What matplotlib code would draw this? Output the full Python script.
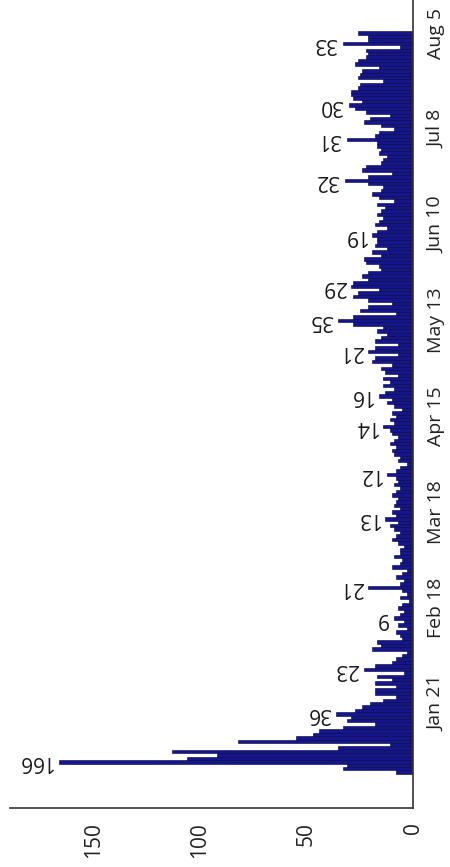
import matplotlib
matplotlib.use("Agg")
import matplotlib.pyplot as plt
import matplotlib.dates as mdates
import pandas as pd

start_date = "2021-01-01"
values = [
    8, 33, 31, 166, 106, 92, 113, 35, 11, 82,
    55, 47, 44, 33, 18, 31, 29, 36, 27, 24,
    20, 14, 8, 18, 18, 8, 18, 10, 17, 4,
    23, 18, 10, 8, 5, 3, 19, 15, 17, 5,
    6, 8, 3, 7, 4, 9, 6, 4, 7, 5,
    2, 6, 3, 5, 21, 6, 4, 8, 5, 3,
    10, 6, 5, 9, 6, 6, 4, 7, 10, 8,
    6, 9, 11, 7, 13, 8, 10, 6, 9, 8,
    7, 10, 8, 6, 9, 7, 8, 12, 8, 6,
    3, 7, 6, 9, 10, 8, 11, 9, 7, 10,
    11, 14, 9, 11, 8, 10, 5, 9, 12, 10,
    16, 13, 9, 14, 11, 14, 7, 13, 15, 10,
    19, 18, 7, 21, 18, 7, 18, 15, 12, 17,
    14, 28, 35, 28, 8, 25, 21, 10, 21, 28,
    26, 16, 29, 28, 21, 24, 21, 15, 16, 22,
    23, 15, 19, 12, 18, 17, 17, 19, 17, 12,
    18, 16, 14, 17, 15, 13, 17, 9, 16, 19,
    15, 14, 21, 32, 21, 10, 24, 22, 15, 14,
    12, 16, 15, 17, 17, 31, 18, 16, 9, 15,
    23, 20, 11, 22, 27, 30, 24, 28, 29, 29,
    26, 25, 14, 26, 25, 24, 16, 27, 26, 22,
    21, 22, 6, 33, 21, 21, 26,
]
label_dates = ["2021-01-04", "2021-01-18", "2021-01-31", "2021-02-15", "2021-02-24",
               "2021-03-16", "2021-03-29", "2021-04-12", "2021-04-21", "2021-05-04",
               "2021-05-13", "2021-05-23", "2021-06-07", "2021-06-23", "2021-07-05",
               "2021-07-15", "2021-08-02"]
tick_dates = ["2021-01-21", "2021-02-18", "2021-03-18", "2021-04-15",
              "2021-05-13", "2021-06-10", "2021-07-08", "2021-08-05"]
tick_labels = ["Jan 21", "Feb 18", "Mar 18", "Apr 15", "May 13", "Jun 10", "Jul 8", "Aug 5"]
value_ticks = [0, 50, 100, 150]

dates = pd.date_range(start_date, periods=len(values), freq="D")
ynum = mdates.date2num(dates.to_pydatetime())
series = pd.Series(values, index=dates)

plt.rcParams['font.family'] = ['Open Sans', 'DejaVu Sans']

fig = plt.figure(figsize=(4.5, 8.67), dpi=100)
ax = fig.add_axes([10 / 450, 59 / 867, 403 / 450, 808 / 867])

ax.barh(ynum, values, height=1.0, color="#16168c", edgecolor="#00003a", linewidth=0.4)

ax.set_xlim(189, 0)
ax.set_ylim(ynum[0] - 10.5, ynum[0] + 225.7)

ax.yaxis.tick_right()
ax.set_yticks(mdates.date2num(pd.to_datetime(tick_dates).to_pydatetime()))
ax.set_yticklabels(tick_labels, rotation=90, va="center", fontsize=14, color="#222222")
ax.set_xticks(value_ticks)
ax.set_xticklabels([str(v) for v in value_ticks], rotation=90, ha="center", va="top",
                   fontsize=15, color="#222222")
ax.tick_params(axis="y", length=0, pad=10)
ax.tick_params(axis="x", length=0, pad=10)

for s in ["top", "left"]:
    ax.spines[s].set_visible(False)
for s in ["bottom", "right"]:
    ax.spines[s].set_color("#333333")
    ax.spines[s].set_linewidth(1.2)

for d in label_dates:
    dt = pd.Timestamp(d)
    v = series[dt]
    ax.annotate(str(v), xy=(v, mdates.date2num(dt.to_pydatetime())), xytext=(-4, 0),
                textcoords="offset points", rotation=180, ha="right", va="center",
                fontsize=15, color="#1a1a1a")

fig.savefig("out.png", dpi=100)
